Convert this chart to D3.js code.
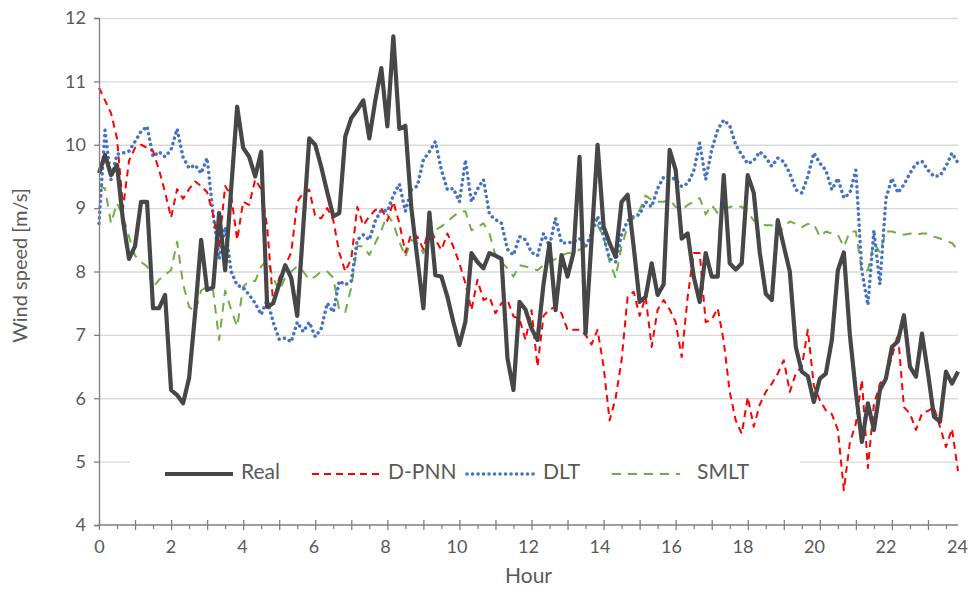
<!DOCTYPE html>
<html lang="en">
<head>
<meta charset="UTF-8">
<title>Wind speed forecast</title>
<script src="https://d3js.org/d3.v7.min.js"></script>
<style>
  body { margin: 0; background: #fff; font-family: Lato, "Open Sans", sans-serif; }
  svg text { fill: #595959; }
</style>
</head>
<body>
<svg id="chart" width="979" height="590"></svg>
<script>
// 10-minute samples, 00:00 .. 23:50
const stepMinutes = 10;
const hourLabels = [0, 2, 4, 6, 8, 10, 12, 14, 16, 18, 20, 22, 24];
const speedTicks = [4, 5, 6, 7, 8, 9, 10, 11, 12];
const seriesNames = ["Real", "D-PNN", "DLT", "SMLT"];

const realSpeed = [
  9.55, 9.84, 9.52, 9.68, 8.8, 8.2, 8.4, 9.1, 9.1, 7.42, 7.42, 7.63,
  6.13, 6.05, 5.92, 6.32, 7.34, 8.5, 7.71, 7.75, 8.92, 8.02, 9.3, 10.6,
  9.95, 9.81, 9.5, 9.89, 7.44, 7.5, 7.8, 8.1, 7.9, 7.3, 8.7, 10.1,
  10.0, 9.65, 9.25, 8.87, 8.92, 10.13, 10.42, 10.55, 10.7, 10.1, 10.7, 11.21,
  10.29, 11.71, 10.25, 10.3, 9.0, 8.2, 7.42, 8.93, 7.94, 7.92, 7.6, 7.2,
  6.84, 7.21, 8.29, 8.15, 8.05, 8.29, 8.25, 8.2, 6.63, 6.13, 7.52, 7.4,
  7.1, 6.92, 7.8, 8.44, 7.39, 8.26, 7.92, 8.3, 9.81, 7.02, 8.5, 10.0,
  8.71, 8.45, 8.23, 9.1, 9.21, 8.4, 7.52, 7.6, 8.13, 7.63, 7.8, 9.92,
  9.6, 8.52, 8.6, 7.92, 7.52, 8.29, 7.92, 7.92, 9.52, 8.13, 8.03, 8.13,
  9.52, 9.24, 8.3, 7.65, 7.55, 8.81, 8.4, 8.0, 6.81, 6.42, 6.35, 5.94,
  6.31, 6.39, 6.92, 8.02, 8.3, 7.0, 6.1, 5.31, 5.92, 5.5, 6.13, 6.31,
  6.81, 6.9, 7.31, 6.5, 6.34, 7.02, 6.4, 5.71, 5.63, 6.42, 6.23, 6.42
];

const dpnnSpeed = [
  10.9, 10.7, 10.5, 10.1, 9.0, 9.75, 9.95, 10.0, 9.95, 9.9, 9.6, 9.25,
  8.85, 9.3, 9.15, 9.3, 9.42, 9.35, 9.25, 8.9, 8.4, 9.35, 9.2, 8.5,
  9.1, 9.05, 9.45, 9.3, 8.7, 7.5, 7.9, 8.1, 8.3, 9.1, 9.24, 9.29,
  8.87, 8.84, 9.0, 8.81, 8.3, 8.0, 8.2, 9.02, 8.73, 8.87, 8.97, 9.0,
  8.8, 9.1, 8.76, 8.3, 8.6, 8.55, 8.35, 8.71, 8.5, 8.34, 8.6, 8.39,
  8.13, 7.81, 7.39, 7.87, 7.55, 7.6, 7.34, 7.5, 7.55, 7.29, 7.25, 6.92,
  7.39, 6.5, 7.3, 7.4, 7.44, 7.34, 7.08, 7.08, 7.08, 7.0, 6.85, 7.08,
  6.5, 5.65, 6.0, 6.6, 7.6, 7.68, 7.3, 7.6, 6.81, 7.4, 7.55, 7.4,
  7.2, 6.65, 7.6, 8.29, 8.29, 7.2, 7.24, 7.42, 6.9, 6.1, 5.65, 5.44,
  6.02, 5.55, 5.9, 6.1, 6.23, 6.39, 6.6, 6.1, 6.39, 6.5, 7.08, 6.2,
  5.97, 5.81, 5.75, 5.5, 4.55, 5.3, 5.6, 6.29, 4.9, 5.9, 6.23, 6.34,
  6.65, 7.02, 5.86, 5.76, 5.5, 5.76, 5.8, 5.86, 5.55, 5.23, 5.52, 4.85
];

const dltSpeed = [
  8.76, 10.23, 9.45, 9.85, 9.87, 9.9, 10.05, 10.21, 10.29, 9.81, 9.89, 9.81,
  9.92, 10.25, 9.8, 9.63, 9.68, 9.55, 9.79, 8.9, 8.2, 8.7, 8.0, 7.78,
  7.75, 7.63, 7.5, 7.32, 7.55, 7.2, 6.93, 6.95, 6.89, 7.2, 7.05, 7.2,
  6.97, 7.1, 7.5, 7.36, 7.85, 7.79, 7.85, 8.5, 8.58, 8.5, 8.8, 8.97,
  8.95, 9.2, 9.38, 8.95, 9.29, 9.35, 9.76, 9.89, 10.05, 9.6, 9.29, 9.31,
  9.1, 9.76, 9.1, 9.3, 9.45, 8.9, 8.82, 8.76, 8.35, 8.26, 8.55, 8.5,
  8.3, 8.25, 8.6, 8.4, 8.84, 8.45, 8.45, 8.47, 8.52, 8.39, 8.6, 8.87,
  8.55, 8.2, 8.15, 8.58, 8.8, 8.87, 8.9, 9.1, 9.02, 9.31, 9.49, 9.49,
  9.45, 9.34, 9.39, 9.58, 10.03, 9.45, 9.92, 10.24, 10.39, 10.3, 10.0, 9.84,
  9.7, 9.75, 9.89, 9.8, 9.66, 9.79, 9.73, 9.55, 9.29, 9.24, 9.5, 9.87,
  9.71, 9.6, 9.29, 9.47, 9.16, 9.24, 9.6, 8.0, 7.47, 8.65, 7.8, 9.15,
  9.47, 9.24, 9.37, 9.55, 9.7, 9.74, 9.6, 9.5, 9.51, 9.66, 9.87, 9.71
];

const smltSpeed = [
  9.35, 9.31, 8.76, 9.08, 8.87, 8.55, 8.25, 8.15, 8.08, 7.75, 7.87, 7.95,
  8.02, 8.47, 7.8, 7.44, 7.36, 7.7, 7.76, 7.7, 6.92, 7.7, 7.4, 7.13,
  7.76, 7.85, 7.85, 8.08, 8.18, 7.9, 7.7, 7.9, 8.0, 8.08, 8.0, 7.87,
  7.92, 8.0, 8.0, 7.9, 7.39, 7.36, 7.75, 8.4, 8.4, 8.26, 8.45, 8.65,
  8.9, 8.76, 8.47, 8.23, 8.5, 8.45, 8.29, 8.55, 8.66, 8.71, 8.79, 8.87,
  8.94, 8.95, 8.65, 8.7, 8.76, 8.6, 8.25, 8.15, 8.05, 7.92, 8.1, 8.08,
  8.05, 8.02, 8.1, 8.15, 8.2, 8.25, 8.29, 8.3, 8.34, 8.4, 8.55, 8.73,
  8.55, 8.15, 7.9, 8.4, 8.71, 8.84, 8.97, 9.2, 9.13, 9.1, 9.1, 9.13,
  9.02, 8.97, 9.05, 9.1, 9.16, 8.9, 9.05, 8.92, 8.97, 9.02, 9.02, 9.02,
  8.95, 8.8, 8.76, 8.73, 8.73, 8.6, 8.7, 8.79, 8.75, 8.7, 8.75, 8.75,
  8.55, 8.63, 8.6, 8.58, 8.39, 8.63, 8.63, 8.0, 8.02, 8.45, 8.3, 8.63,
  8.63, 8.6, 8.58, 8.6, 8.58, 8.6, 8.6, 8.55, 8.52, 8.48, 8.45, 8.34
];

const seriesValues = [realSpeed, dpnnSpeed, dltSpeed, smltSpeed];
const seriesStyle = [
  { color: "#474747", width: 4.2, dash: null,      cap: "butt" },
  { color: "#ff0000", width: 2,   dash: "7,5",     cap: "butt" },
  { color: "#4472c4", width: 3.5, dash: "0.1,5.4", cap: "round" },
  { color: "#70ad47", width: 2,   dash: "9,7",     cap: "butt" }
];

const svg = d3.select("#chart");
const W = 979, H = 590;
const margin = { top: 18, right: 21, bottom: 65, left: 99 };
const plotL = margin.left, plotR = W - margin.right;
const plotT = margin.top, plotB = H - margin.bottom;

const lastHour = (realSpeed.length - 1) * stepMinutes / 60;
const x = d3.scaleLinear().domain([0, lastHour]).range([plotL, plotR]);
const xLabel = d3.scaleLinear().domain([0, 24]).range([plotL, plotR - 1]);
const y = d3.scaleLinear().domain([4, 12]).range([plotB, plotT]);

// gridlines
svg.append("g")
  .attr("transform", `translate(${plotL},0)`)
  .call(d3.axisLeft(y).tickValues(speedTicks.slice(1)).tickSize(-(plotR - plotL)).tickFormat(""))
  .call(g => g.select(".domain").remove())
  .call(g => g.selectAll(".tick line").attr("stroke", "#d9d9d9").attr("stroke-width", 1.3));

// series
const line = d3.line()
  .x((d, i) => x(i * stepMinutes / 60))
  .y(d => y(d));

// draw order: SMLT, DLT, D-PNN, Real on top
[3, 2, 1, 0].forEach(k => {
  const s = seriesStyle[k];
  svg.append("path")
    .datum(seriesValues[k])
    .attr("fill", "none")
    .attr("stroke", s.color)
    .attr("stroke-width", s.width)
    .attr("stroke-dasharray", s.dash)
    .attr("stroke-linecap", s.cap)
    .attr("stroke-linejoin", "round")
    .attr("d", line);
});

// y axis
svg.append("g")
  .attr("transform", `translate(${plotL},0)`)
  .call(d3.axisLeft(y).tickValues(speedTicks).tickSize(5).tickPadding(8).tickFormat(d3.format("d")))
  .call(g => g.select(".domain").attr("stroke", "#7f7f7f").attr("stroke-width", 1.3))
  .call(g => g.selectAll(".tick line").attr("stroke", "#7f7f7f").attr("stroke-width", 1.3))
  .call(g => g.selectAll("text").style("font-size", "18px").style("font-family", "Lato, sans-serif"));

// x axis: hour ticks and half-hour ticks
const xAxisG = svg.append("g").attr("transform", `translate(0,${plotB})`);
xAxisG.append("g")
  .call(d3.axisBottom(x).tickValues(d3.range(0.5, lastHour, 1)).tickSize(4).tickFormat(""))
  .call(g => g.select(".domain").remove())
  .call(g => g.selectAll(".tick line").attr("stroke", "#7f7f7f").attr("stroke-width", 1.3));
xAxisG.append("g")
  .call(d3.axisBottom(x).tickValues(d3.range(0, lastHour + 0.01, 1)).tickSize(5).tickFormat(""))
  .call(g => g.select(".domain").attr("stroke", "#7f7f7f").attr("stroke-width", 1.3).attr("d", `M${plotL},0H${plotR}`))
  .call(g => g.selectAll(".tick line").attr("stroke", "#7f7f7f").attr("stroke-width", 1.3).attr("y1", -5));
xAxisG.append("g")
  .call(d3.axisBottom(xLabel).tickValues(hourLabels).tickSize(0).tickPadding(15).tickFormat(d3.format("d")))
  .call(g => g.select(".domain").remove())
  .call(g => g.selectAll("text").style("font-size", "18px").style("font-family", "Lato, sans-serif"));

// axis titles
svg.append("text")
  .attr("transform", `translate(22,${(plotT + plotB) / 2 - 6}) rotate(-90)`)
  .attr("text-anchor", "middle")
  .attr("dominant-baseline", "middle")
  .style("font-size", "20px")
  .text("Wind speed [m/s]");

svg.append("text")
  .attr("x", (plotL + plotR) / 2)
  .attr("y", 578)
  .attr("text-anchor", "middle")
  .attr("dominant-baseline", "middle")
  .style("font-size", "21px")
  .text("Hour");

// legend
const legend = svg.append("g").attr("transform", "translate(130,451)");
legend.append("rect").attr("width", 670).attr("height", 46).attr("fill", "#fff");
const itemX = [35, 182, 337, 482];
seriesNames.forEach((name, k) => {
  const s = seriesStyle[k];
  const g = legend.append("g").attr("transform", `translate(${itemX[k]},23)`);
  g.append("line")
    .attr("x1", 0).attr("x2", 68)
    .attr("stroke", s.color)
    .attr("stroke-width", s.width)
    .attr("stroke-dasharray", s.dash)
    .attr("stroke-linecap", s.cap);
  g.append("text")
    .attr("x", k === 3 ? 85 : 76)
    .attr("dominant-baseline", "middle")
    .style("font-size", "21px")
    .text(name);
});
</script>
</body>
</html>
